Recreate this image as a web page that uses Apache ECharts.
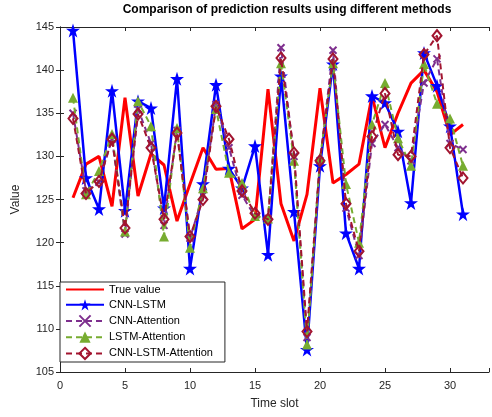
<!DOCTYPE html>
<html><head><meta charset="utf-8">
<script src="https://cdn.jsdelivr.net/npm/echarts@6/dist/echarts.min.js"></script>
<style>html,body{margin:0;padding:0;background:#fff}#c{width:492px;height:417px}</style>
</head><body><div id="c"></div>
<script>
const timeSlots = [1,2,3,4,5,6,7,8,9,10,11,12,13,14,15,16,17,18,19,20,21,22,23,24,25,26,27,28,29,30,31];
const trueValue = [125.2,129.1,130.0,124.2,136.8,125.4,130.3,129.0,122.5,126.8,131.0,128.5,128.6,121.6,122.7,137.8,124.5,120.2,125.6,137.9,126.9,127.9,129.1,137.0,131.0,135.0,138.5,140.0,137.5,132.5,133.7];
const cnnLstm = [144.6,127.5,123.9,137.6,123.7,136.4,135.6,124.0,139.0,117.0,126.8,138.3,128.6,126.3,131.2,118.6,139.3,123.6,107.6,128.9,140.7,121.1,117.0,137.0,136.2,132.9,124.6,142.0,138.2,133.5,123.3];
const cnnAttention = [135.0,126.0,127.0,132.0,121.0,135.5,131.5,122.0,133.0,120.5,125.5,136.0,131.0,125.5,123.0,122.8,142.6,130.0,109.0,129.5,142.3,124.0,118.5,131.5,133.7,131.0,129.5,138.5,141.3,131.5,130.8];
const lstmAttention = [136.8,125.6,128.3,132.6,121.3,136.4,133.5,120.7,133.3,119.4,126.3,135.5,128.1,126.9,123.1,122.8,140.8,129.5,108.2,129.8,140.8,126.8,120.0,133.7,138.5,132.1,128.9,140.7,136.1,134.4,128.9];
const cnnLstmAttention = [134.4,125.7,127.1,132.0,121.7,134.9,131.0,122.7,132.7,120.7,125.0,135.8,132.0,126.0,123.4,122.7,141.4,130.4,109.7,129.5,141.3,124.5,119.0,132.3,137.3,130.2,130.0,141.8,144.0,131.0,127.5];
const seriesNames = ['True value','CNN-LSTM','CNN-Attention','LSTM-Attention','CNN-LSTM-Attention'];

const pairs = arr => timeSlots.map((t,i)=>[t,arr[i]]);
const font = 'Liberation Sans, Arial, Helvetica, sans-serif';
const starPath = 'path://M50,0 L61.2,34.5 L97.6,34.5 L68.2,55.9 L79.4,90.5 L50,69.1 L20.6,90.5 L31.8,55.9 L2.4,34.5 L38.8,34.5 Z';
const xPath = 'path://M0,0 L10,10 M10,0 L0,10';
const axisCol = '#262626';

const chart = echarts.init(document.getElementById('c'), null, {renderer:'canvas'});
const baseX = {type:'value', min:0, max:33, interval:5,
  axisLine:{show:true, lineStyle:{color:axisCol, width:1}},
  axisTick:{show:true, inside:true, length:4, lineStyle:{color:axisCol}},
  splitLine:{show:false}};
const baseY = {type:'value', min:105, max:145, interval:5,
  axisLine:{show:true, lineStyle:{color:axisCol, width:1}},
  axisTick:{show:true, inside:true, length:4, lineStyle:{color:axisCol}},
  splitLine:{show:false}};

chart.setOption({
  animation:false,
  backgroundColor:'#fff',
  title:{text:'Comparison of prediction results using different methods', left:282, textAlign:'center', top:-1,
    textStyle:{fontFamily:font, fontWeight:'bold', fontSize:12, color:'#000'}},
  grid:{left:60, right:1, top:27, bottom:45, containLabel:false},
  xAxis:[
    Object.assign({}, baseX, {position:'bottom', name:'Time slot', nameLocation:'middle', nameGap:26,
      nameTextStyle:{fontFamily:font, fontSize:12, color:axisCol},
      axisLabel:{fontFamily:font, fontSize:11, color:axisCol, margin:8,
        formatter:v => (v % 5 === 0 ? String(v) : '')}}),
    Object.assign({}, baseX, {position:'top', axisLabel:{show:false}})
  ],
  yAxis:[
    Object.assign({}, baseY, {position:'left', name:'Value', nameLocation:'middle', nameGap:38,
      nameTextStyle:{fontFamily:font, fontSize:12, color:axisCol},
      axisLabel:{fontFamily:font, fontSize:11, color:axisCol, margin:6}}),
    Object.assign({}, baseY, {position:'right', axisLabel:{show:false}})
  ],
  legend:{orient:'vertical', left:60, top:282, padding:[2,12,2,5], itemGap:4, itemWidth:38, itemHeight:14,
    backgroundColor:'#fff', borderColor:'#262626', borderWidth:1,
    textStyle:{fontFamily:font, fontSize:11, color:'#000'},
    data:seriesNames},
  series:[
    {name:seriesNames[0], type:'line', data:pairs(trueValue), symbol:'circle', symbolSize:0, showSymbol:false,
      lineStyle:{color:'#ff0000', width:3}, itemStyle:{color:'rgba(255,0,0,0)'}, z:2},
    {name:seriesNames[1], type:'line', data:pairs(cnnLstm), symbol:starPath, symbolSize:14,
      lineStyle:{color:'#0000ff', width:2.5}, itemStyle:{color:'#0000ff'}, z:3},
    {name:seriesNames[2], type:'line', data:pairs(cnnAttention), symbol:xPath, symbolSize:7,
      lineStyle:{color:'#7E2F8E', width:2, type:[6,4]},
      itemStyle:{color:'rgba(0,0,0,0)', borderColor:'#7E2F8E', borderWidth:2}, z:4},
    {name:seriesNames[3], type:'line', data:pairs(lstmAttention), symbol:'triangle', symbolSize:10,
      lineStyle:{color:'#77AC30', width:2, type:[6,4]},
      itemStyle:{color:'#77AC30'}, z:5},
    {name:seriesNames[4], type:'line', data:pairs(cnnLstmAttention), symbol:'diamond', symbolSize:[9,11],
      lineStyle:{color:'#A2142F', width:2, type:[6,4]},
      itemStyle:{color:'rgba(255,255,255,0)', borderColor:'#A2142F', borderWidth:2}, z:6}
  ]
});
</script></body></html>
